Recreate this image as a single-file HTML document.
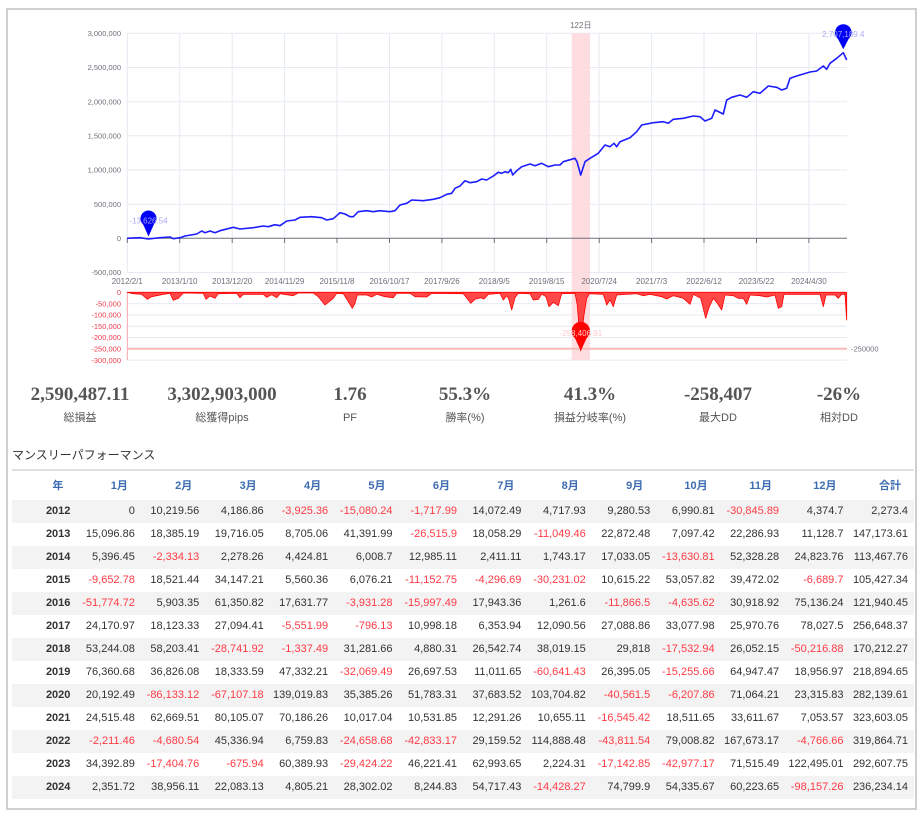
<!DOCTYPE html>
<html><head><meta charset="utf-8">
<style>
*{margin:0;padding:0;box-sizing:border-box}
body{width:923px;height:816px;background:#fff;position:relative;overflow:hidden;font-family:"Liberation Sans","Noto Sans CJK JP",sans-serif;color:#333}
.frame{position:absolute;left:6px;top:8px;width:911px;height:802px;border:2px solid #cfcfcf}
svg{position:absolute;left:0;top:0}
.sv{position:absolute;width:150px;text-align:center;font-family:"Liberation Serif","Noto Serif CJK SC",serif;font-weight:bold;font-size:19px;line-height:22px;color:#555;top:384px}
.sl{position:absolute;width:150px;text-align:center;font-size:11px;line-height:14px;color:#555;top:411px}
.title{position:absolute;left:12px;top:447px;font-size:12px;line-height:16px;color:#333}
table{position:absolute;left:12px;top:469px;width:902px;border-collapse:collapse;table-layout:fixed;border-top:2px solid #e0e0e0;font-size:11px}
th{height:29.5px;text-align:right;padding-right:13px;color:#3d6db0;font-weight:bold;font-size:11px}
td{height:23px;text-align:right;padding-right:6px;color:#333;white-space:nowrap}
td.y{font-weight:bold}
tbody tr:nth-child(odd){background:#f3f3f3}
.n{color:#ff3a44}
</style></head><body>
<div class="frame"></div>
<svg width="923" height="370" viewBox="0 0 923 370" font-family="Liberation Sans, Noto Sans CJK JP, sans-serif">
<g stroke="#e6eaf2" stroke-width="1">
<line x1="127" y1="33.3" x2="847" y2="33.3"/>
<line x1="127" y1="67.5" x2="847" y2="67.5"/>
<line x1="127" y1="101.7" x2="847" y2="101.7"/>
<line x1="127" y1="135.8" x2="847" y2="135.8"/>
<line x1="127" y1="170" x2="847" y2="170"/>
<line x1="127" y1="204.2" x2="847" y2="204.2"/>
<line x1="127" y1="272.5" x2="847" y2="272.5"/>
<line x1="127.3" y1="33.3" x2="127.3" y2="272.5"/>
<line x1="179.7" y1="33.3" x2="179.7" y2="272.5"/>
<line x1="232.2" y1="33.3" x2="232.2" y2="272.5"/>
<line x1="284.6" y1="33.3" x2="284.6" y2="272.5"/>
<line x1="337" y1="33.3" x2="337" y2="272.5"/>
<line x1="389.5" y1="33.3" x2="389.5" y2="272.5"/>
<line x1="441.9" y1="33.3" x2="441.9" y2="272.5"/>
<line x1="494.3" y1="33.3" x2="494.3" y2="272.5"/>
<line x1="546.7" y1="33.3" x2="546.7" y2="272.5"/>
<line x1="599.2" y1="33.3" x2="599.2" y2="272.5"/>
<line x1="651.6" y1="33.3" x2="651.6" y2="272.5"/>
<line x1="704" y1="33.3" x2="704" y2="272.5"/>
<line x1="756.5" y1="33.3" x2="756.5" y2="272.5"/>
<line x1="808.9" y1="33.3" x2="808.9" y2="272.5"/>
<line x1="127" y1="303.6" x2="847" y2="303.6"/>
<line x1="127" y1="314.9" x2="847" y2="314.9"/>
<line x1="127" y1="326.2" x2="847" y2="326.2"/>
<line x1="127" y1="337.5" x2="847" y2="337.5"/>
<line x1="127" y1="360.1" x2="847" y2="360.1"/>
<line x1="127" y1="292.3" x2="847" y2="292.3"/>
</g>
<rect x="571.7" y="33.3" width="18.3" height="326.8" fill="#fdd9dc" opacity="0.9"/>
<line x1="127" y1="238.3" x2="847" y2="238.3" stroke="#6e7079" stroke-width="1"/>
<g stroke="#6e7079" stroke-width="1">
<line x1="127.3" y1="238.3" x2="127.3" y2="243"/><line x1="179.7" y1="238.3" x2="179.7" y2="243"/><line x1="232.2" y1="238.3" x2="232.2" y2="243"/><line x1="284.6" y1="238.3" x2="284.6" y2="243"/><line x1="337" y1="238.3" x2="337" y2="243"/><line x1="389.5" y1="238.3" x2="389.5" y2="243"/><line x1="441.9" y1="238.3" x2="441.9" y2="243"/><line x1="494.3" y1="238.3" x2="494.3" y2="243"/><line x1="546.7" y1="238.3" x2="546.7" y2="243"/><line x1="599.2" y1="238.3" x2="599.2" y2="243"/><line x1="651.6" y1="238.3" x2="651.6" y2="243"/><line x1="704" y1="238.3" x2="704" y2="243"/><line x1="756.5" y1="238.3" x2="756.5" y2="243"/><line x1="808.9" y1="238.3" x2="808.9" y2="243"/>
</g>
<line x1="127.3" y1="292.3" x2="127.3" y2="360.1" stroke="#f4a3aa" stroke-width="1"/>
<line x1="127" y1="348.8" x2="847" y2="348.8" stroke="#f9b8b8" stroke-width="2"/>
<g font-size="7.5" fill="#6e7079" text-anchor="end">
<text x="121" y="36">3,000,000</text>
<text x="121" y="70.2">2,500,000</text>
<text x="121" y="104.4">2,000,000</text>
<text x="121" y="138.5">1,500,000</text>
<text x="121" y="172.7">1,000,000</text>
<text x="121" y="206.9">500,000</text>
<text x="121" y="241">0</text>
<text x="121" y="275.2">-500,000</text>
</g>
<g font-size="7.5" fill="#ee3d4c" text-anchor="end">
<text x="121" y="295">0</text>
<text x="121" y="306.3">-50,000</text>
<text x="121" y="317.6">-100,000</text>
<text x="121" y="328.9">-150,000</text>
<text x="121" y="340.2">-200,000</text>
<text x="121" y="351.5">-250,000</text>
<text x="121" y="362.8">-300,000</text>
</g>
<g font-size="8" fill="#6e7079" text-anchor="middle">
<text x="127.3" y="284">2012/2/1</text>
<text x="179.7" y="284">2013/1/10</text>
<text x="232.2" y="284">2013/12/20</text>
<text x="284.6" y="284">2014/11/29</text>
<text x="337" y="284">2015/11/8</text>
<text x="389.5" y="284">2016/10/17</text>
<text x="441.9" y="284">2017/9/26</text>
<text x="494.3" y="284">2018/9/5</text>
<text x="546.7" y="284">2019/8/15</text>
<text x="599.2" y="284">2020/7/24</text>
<text x="651.6" y="284">2021/7/3</text>
<text x="704" y="284">2022/6/12</text>
<text x="756.5" y="284">2023/5/22</text>
<text x="808.9" y="284">2024/4/30</text>
<text x="580.8" y="28">122日</text>
</g>
<text x="851" y="351.5" font-size="7.5" fill="#6e7079">-250000</text>
<polyline fill="none" stroke="#1d1dff" stroke-width="1.6" stroke-linejoin="round" points="127,238.3 140,237.7 148.3,239 160,237.7 170,237 173.3,238.7 180,237.7 185,236 196.7,234 201.7,231 205,232.7 210,231 215,232.7 220,230.7 233.3,227.3 240,229 253.3,227.7 263.3,226 268.3,226.7 275,224.7 280,225.7 286.7,221 295,220 300,217.3 311.7,216.7 321.7,217.7 326.7,220 333.3,218.7 340,212.7 345,214 350,216.7 353.3,216.7 358.3,211.7 366.7,210.7 373.3,211.7 380,210.7 390,211.7 395,210.7 400,205 406.7,203.3 411.7,200 423.3,200.7 433.3,199.3 440,197.7 446.7,194.3 451.7,193.3 455,188.3 460,186 465,180.7 470,182.7 476.7,181.7 481.7,179 486.7,180 493.3,176 498.3,172.3 501.7,173.3 505,171.7 508.3,172.7 510.7,169.3 512.7,175 516.7,170.7 521.7,166.7 530,164 535,165.7 541.7,163.3 548.3,166.7 555,165 560,165 563.3,161.7 575,158.3 577,161.7 580.7,175 585,161.7 590,158.3 598.3,153.3 605,145 610,146.7 614,143.3 616.7,146.7 620,141.7 630,137.7 636.7,131.7 641.7,125 653.3,122.7 663.3,121.7 668.3,123.3 673.3,119.3 683.3,118.3 693.3,116 700,116.7 705,121 711.7,118.3 715,110 723.3,114 726.7,100 731.7,97.3 740,95 746.7,97.3 753.3,91.7 760,93.3 768.3,86 776.7,87.3 781.7,90 786.7,88.3 790,78.3 796.7,76 803.3,74 810,72 816.7,71 823.3,66 826.7,69.3 830,63.3 836.7,58.3 843.3,52.7 846.7,60"/>
<polygon fill="#ff3535" fill-opacity="0.9" stroke="#f00" stroke-width="0.8" stroke-linejoin="round" points="127,292.3 133.3,293.7 141.7,294.3 147.3,299.3 151.7,296.7 163.3,294.3 170,293.3 173.3,300.3 178.3,298.3 183.3,293 203.3,293.3 206,299.3 210,296 215,298.3 218.3,293.7 236.7,293.3 240,297.7 243.3,294.3 263.3,294.3 266.7,297.3 271.7,294.7 276.7,297.7 280,293.7 293.3,295.7 298.3,293 313.3,293 318.3,296.7 325,305 328.3,302.3 333.3,298.3 336.7,293.3 343.3,293.7 348.3,301.7 352.3,308.3 355,303.3 357.3,295 366.7,295 371.7,297 376.7,294.3 385,296.7 393.3,297.7 396.7,293.3 410,293.3 415,296.7 426.7,297 431.7,293.3 463.3,293.7 468.3,300 470.7,303.3 475,299.3 480.7,297.7 484,299 488.3,294.3 500,293.3 503.3,300 506.7,295.7 508.5,298.3 511.7,310 515,297.7 518.3,293.3 530,293.7 533.3,300 538.3,299.3 541.7,294 546,296.7 549,306.7 553.3,302.3 558.3,305.7 561.7,293.7 575,293.3 577.3,305 579.3,331.7 580.7,351 582,331.7 584,315 586.7,298.3 589.3,293.7 603.3,294.3 606.7,305 610,300 613.3,306.7 616.7,295 636.7,293.7 643.3,295.7 650,294.3 661.7,296.7 666.7,299 673.3,295.7 683.3,298.3 690,304.3 693.3,294.3 700.7,298.3 705.7,318.3 709.3,306.7 713.3,298.3 717.3,303.3 721.7,310 725,295 733.3,295.7 738.3,298.3 743.3,298.3 746.7,304.3 750,295 760,295.7 766.7,297 775,295 778.3,308.3 781.7,306.7 784,294.3 820,294.3 823.3,306.7 826,295 835,295 838.3,298.3 841.7,294.3 845,294.3 846.7,320 846.7,292.3"/>
<g fill="#0000f5">
<circle cx="148.5" cy="218.5" r="8"/>
<polygon points="142.5,223 154.5,223 148.5,236.5"/>
<circle cx="843.3" cy="32.5" r="8.3"/>
<polygon points="837,37 849.6,37 843.3,49.3"/>
</g>
<g fill="#ff0000">
<circle cx="580.8" cy="331" r="9.2"/>
<polygon points="574,336 587.6,336 580.8,351"/>
</g>
<text x="148.5" y="223.5" font-size="8" fill="#a9a9ff" text-anchor="middle">-13,626.54</text>
<text x="843.3" y="37" font-size="8" fill="#a9a9f5" text-anchor="middle">2,707,189.4</text>
<text x="580.8" y="336" font-size="8" fill="#ffcaca" text-anchor="middle">-258,406.91</text>
</svg>

<div class="sv" style="left:5px">2,590,487.11</div>
<div class="sv" style="left:147px">3,302,903,000</div>
<div class="sv" style="left:275px">1.76</div>
<div class="sv" style="left:390px">55.3%</div>
<div class="sv" style="left:515px">41.3%</div>
<div class="sv" style="left:643px">-258,407</div>
<div class="sv" style="left:764px">-26%</div>
<div class="sl" style="left:5px">総損益</div>
<div class="sl" style="left:147px">総獲得pips</div>
<div class="sl" style="left:275px">PF</div>
<div class="sl" style="left:390px">勝率(%)</div>
<div class="sl" style="left:515px">損益分岐率(%)</div>
<div class="sl" style="left:643px">最大DD</div>
<div class="sl" style="left:764px">相対DD</div>

<div class="title">マンスリーパフォーマンス</div>
<table>
<thead><tr><th>年</th><th>1月</th><th>2月</th><th>3月</th><th>4月</th><th>5月</th><th>6月</th><th>7月</th><th>8月</th><th>9月</th><th>10月</th><th>11月</th><th>12月</th><th>合計</th></tr></thead>
<tbody>
<tr><td class="y">2012</td><td>0</td><td>10,219.56</td><td>4,186.86</td><td class="n">-3,925.36</td><td class="n">-15,080.24</td><td class="n">-1,717.99</td><td>14,072.49</td><td>4,717.93</td><td>9,280.53</td><td>6,990.81</td><td class="n">-30,845.89</td><td>4,374.7</td><td>2,273.4</td></tr>
<tr><td class="y">2013</td><td>15,096.86</td><td>18,385.19</td><td>19,716.05</td><td>8,705.06</td><td>41,391.99</td><td class="n">-26,515.9</td><td>18,058.29</td><td class="n">-11,049.46</td><td>22,872.48</td><td>7,097.42</td><td>22,286.93</td><td>11,128.7</td><td>147,173.61</td></tr>
<tr><td class="y">2014</td><td>5,396.45</td><td class="n">-2,334.13</td><td>2,278.26</td><td>4,424.81</td><td>6,008.7</td><td>12,985.11</td><td>2,411.11</td><td>1,743.17</td><td>17,033.05</td><td class="n">-13,630.81</td><td>52,328.28</td><td>24,823.76</td><td>113,467.76</td></tr>
<tr><td class="y">2015</td><td class="n">-9,652.78</td><td>18,521.44</td><td>34,147.21</td><td>5,560.36</td><td>6,076.21</td><td class="n">-11,152.75</td><td class="n">-4,296.69</td><td class="n">-30,231.02</td><td>10,615.22</td><td>53,057.82</td><td>39,472.02</td><td class="n">-6,689.7</td><td>105,427.34</td></tr>
<tr><td class="y">2016</td><td class="n">-51,774.72</td><td>5,903.35</td><td>61,350.82</td><td>17,631.77</td><td class="n">-3,931.28</td><td class="n">-15,997.49</td><td>17,943.36</td><td>1,261.6</td><td class="n">-11,866.5</td><td class="n">-4,635.62</td><td>30,918.92</td><td>75,136.24</td><td>121,940.45</td></tr>
<tr><td class="y">2017</td><td>24,170.97</td><td>18,123.33</td><td>27,094.41</td><td class="n">-5,551.99</td><td class="n">-796.13</td><td>10,998.18</td><td>6,353.94</td><td>12,090.56</td><td>27,088.86</td><td>33,077.98</td><td>25,970.76</td><td>78,027.5</td><td>256,648.37</td></tr>
<tr><td class="y">2018</td><td>53,244.08</td><td>58,203.41</td><td class="n">-28,741.92</td><td class="n">-1,337.49</td><td>31,281.66</td><td>4,880.31</td><td>26,542.74</td><td>38,019.15</td><td>29,818</td><td class="n">-17,532.94</td><td>26,052.15</td><td class="n">-50,216.88</td><td>170,212.27</td></tr>
<tr><td class="y">2019</td><td>76,360.68</td><td>36,826.08</td><td>18,333.59</td><td>47,332.21</td><td class="n">-32,069.49</td><td>26,697.53</td><td>11,011.65</td><td class="n">-60,641.43</td><td>26,395.05</td><td class="n">-15,255.66</td><td>64,947.47</td><td>18,956.97</td><td>218,894.65</td></tr>
<tr><td class="y">2020</td><td>20,192.49</td><td class="n">-86,133.12</td><td class="n">-67,107.18</td><td>139,019.83</td><td>35,385.26</td><td>51,783.31</td><td>37,683.52</td><td>103,704.82</td><td class="n">-40,561.5</td><td class="n">-6,207.86</td><td>71,064.21</td><td>23,315.83</td><td>282,139.61</td></tr>
<tr><td class="y">2021</td><td>24,515.48</td><td>62,669.51</td><td>80,105.07</td><td>70,186.26</td><td>10,017.04</td><td>10,531.85</td><td>12,291.26</td><td>10,655.11</td><td class="n">-16,545.42</td><td>18,511.65</td><td>33,611.67</td><td>7,053.57</td><td>323,603.05</td></tr>
<tr><td class="y">2022</td><td class="n">-2,211.46</td><td class="n">-4,680.54</td><td>45,336.94</td><td>6,759.83</td><td class="n">-24,658.68</td><td class="n">-42,833.17</td><td>29,159.52</td><td>114,888.48</td><td class="n">-43,811.54</td><td>79,008.82</td><td>167,673.17</td><td class="n">-4,766.66</td><td>319,864.71</td></tr>
<tr><td class="y">2023</td><td>34,392.89</td><td class="n">-17,404.76</td><td class="n">-675.94</td><td>60,389.93</td><td class="n">-29,424.22</td><td>46,221.41</td><td>62,993.65</td><td>2,224.31</td><td class="n">-17,142.85</td><td class="n">-42,977.17</td><td>71,515.49</td><td>122,495.01</td><td>292,607.75</td></tr>
<tr><td class="y">2024</td><td>2,351.72</td><td>38,956.11</td><td>22,083.13</td><td>4,805.21</td><td>28,302.02</td><td>8,244.83</td><td>54,717.43</td><td class="n">-14,428.27</td><td>74,799.9</td><td>54,335.67</td><td>60,223.65</td><td class="n">-98,157.26</td><td>236,234.14</td></tr>
</tbody>
</table>
</body></html>
